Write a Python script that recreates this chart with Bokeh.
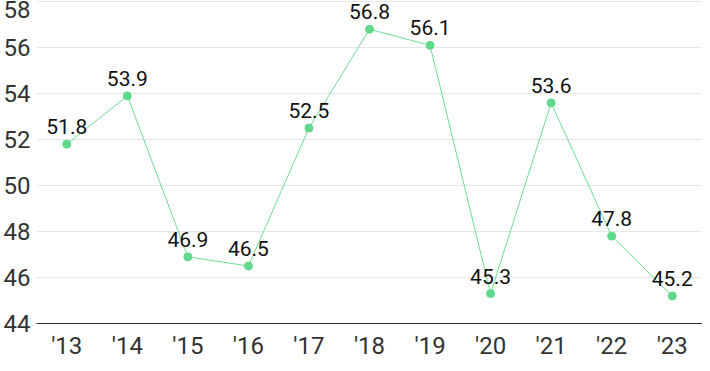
from bokeh.plotting import figure
from bokeh.models import ColumnDataSource, Range1d, FactorRange, FixedTicker
from bokeh.embed import file_html
from bokeh.resources import INLINE
from bokeh.core.properties import value

years = ["'13", "'14", "'15", "'16", "'17", "'18", "'19", "'20", "'21", "'22", "'23"]
values = [51.8, 53.9, 46.9, 46.5, 52.5, 56.8, 56.1, 45.3, 53.6, 47.8, 45.2]
labels = [f"{v:.1f}" for v in values]
y_ticks = [44, 46, 48, 50, 52, 54, 56, 58]

src = ColumnDataSource(dict(x=years, y=values, t=labels))

p = figure(width=702, height=363, output_backend="svg", toolbar_location=None,
           x_range=FactorRange(factors=years, range_padding=0),
           y_range=Range1d(44, 58.05),
           min_border_left=34, min_border_right=0, min_border_top=0, min_border_bottom=40)
p.outline_line_color = None
p.background_fill_color = "white"
p.border_fill_color = "white"

p.line("x", "y", source=src, line_color="#6edc94", line_width=1)
p.scatter("x", "y", source=src, size=8, fill_color="#5fd98a", line_color="#5fd98a")
p.text("x", "y", text="t", source=src, text_align="center", text_baseline="bottom",
       y_offset=-10, text_font=value("Roboto"), text_font_size="21px", text_color="#111111")

p.yaxis.ticker = FixedTicker(ticks=y_ticks)
p.yaxis.axis_line_color = None
p.yaxis.major_tick_line_color = None
p.yaxis.minor_tick_line_color = None
p.yaxis.major_tick_out = 0
p.yaxis.major_label_standoff = 6
p.yaxis.major_label_text_font = "Roboto"
p.yaxis.major_label_text_font_size = "24px"
p.yaxis.major_label_text_color = "#333333"

p.xaxis.axis_line_color = "#333333"
p.xaxis.axis_line_width = 1
p.xaxis.major_tick_line_color = None
p.xaxis.major_tick_in = 0
p.xaxis.major_tick_out = 0
p.xaxis.major_label_standoff = 8
p.xaxis.major_label_text_font = "Roboto"
p.xaxis.major_label_text_font_size = "24px"
p.xaxis.major_label_text_color = "#333333"

p.xgrid.grid_line_color = None
p.ygrid.ticker = FixedTicker(ticks=y_ticks)
p.ygrid.grid_line_color = "#e6e6e6"
p.ygrid.grid_line_width = 1

open("out.html", "w").write(file_html(p, INLINE))
